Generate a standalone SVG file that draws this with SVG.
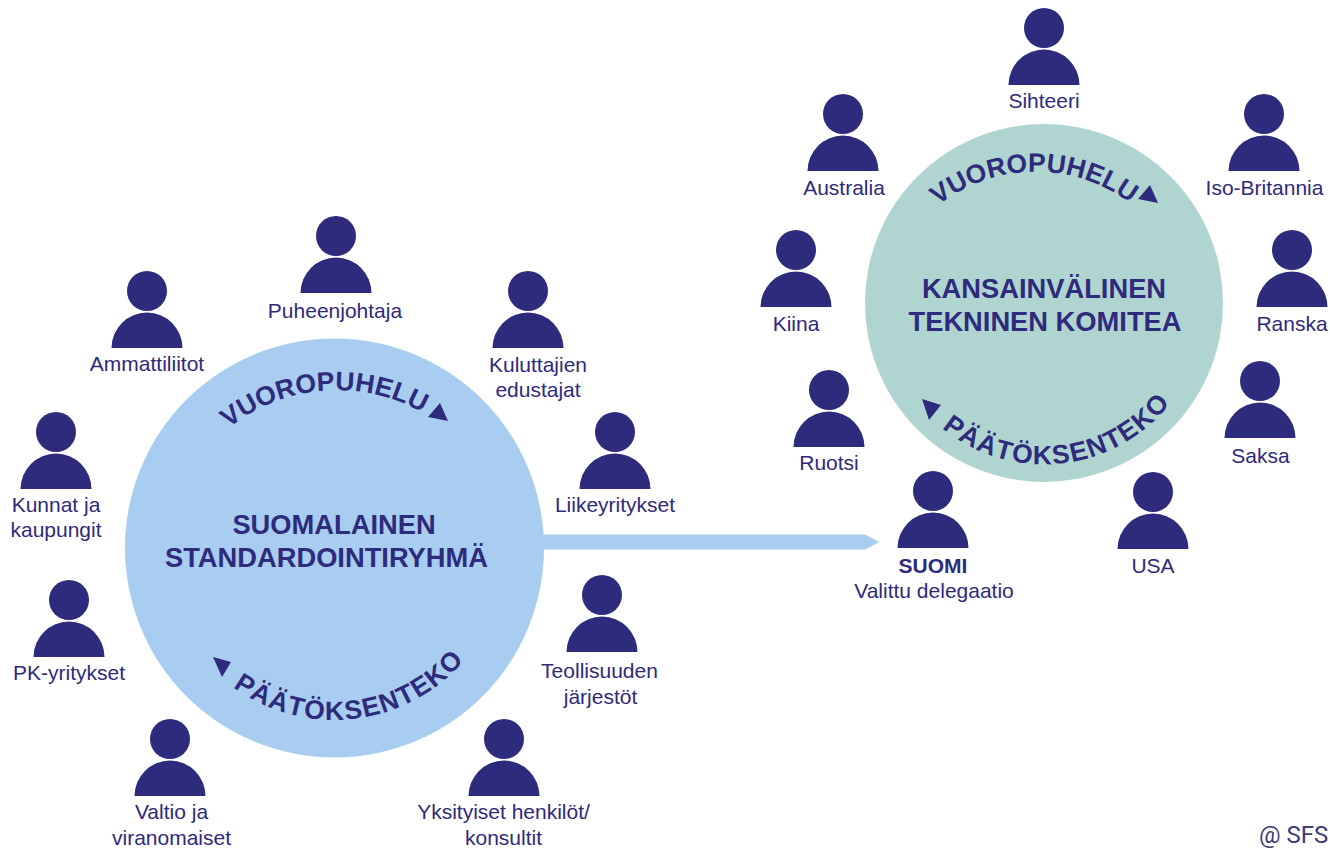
<svg xmlns="http://www.w3.org/2000/svg" width="1330" height="848" viewBox="0 0 1330 848">
<style>
text{font-family:"Liberation Sans",Arial,sans-serif;fill:#2e2a7c}
.l{font-size:21px;text-anchor:middle}
.b{font-weight:bold}
.t{font-size:27.3px;font-weight:bold;text-anchor:middle}
.c{font-size:26.5px;font-weight:bold}
.s{letter-spacing:1.25px}
.n{fill:#2e2a7c}
.m{font-family:Roboto,sans-serif;font-size:24px;fill:#3c3c78}
</style>
<defs>
<g id="person"><circle cx="0" cy="-57" r="20"/><path d="M-35.500 0A35.500 35.500 0 0 1 35.500 0Z"/></g>
<path id="a1" d="M228.700 428.100A174 174 0 0 1 467 448.500"/>
<path id="a2" d="M233 687A172 172 0 0 0 483 634"/>
<path id="a3" d="M938.400 205.400A157.600 157.600 0 0 1 1147 217.600"/>
<path id="a4" d="M942 428A161 161 0 0 0 1190 371"/>
</defs>
<rect width="1330" height="848" fill="#fff"/>
<g id="connectors"><polygon points="540,534.500 865,534.500 879.500,542 865,549.500 540,549.500" fill="#a9cdf0"/></g>
<g id="group-fi">
<circle cx="334.500" cy="548" r="209.500" fill="#a9cdf0"/>
<text class="t" x="334" y="534">SUOMALAINEN</text>
<text class="t" x="326.500" y="567">STANDARDOINTIRYHMÄ</text>
<text class="c"><textPath href="#a1">VUOROPUHELU</textPath></text>
<polygon class="n" points="448,421 428,417 440,403"/>
<text class="c s"><textPath href="#a2">PÄÄTÖKSENTEKO</textPath></text>
<polygon class="n" points="213,657 231,662 222,677"/>
</g>
<g id="group-int">
<circle cx="1044" cy="303" r="179" fill="#b0d5d0"/>
<text class="t" x="1044" y="298">KANSAINVÄLINEN</text>
<text class="t" x="1045" y="331">TEKNINEN KOMITEA</text>
<text class="c"><textPath href="#a3">VUOROPUHELU</textPath></text>
<polygon class="n" points="1158,203 1138,199 1150,185"/>
<text class="c s"><textPath href="#a4">PÄÄTÖKSENTEKO</textPath></text>
<polygon class="n" points="922,399 941,405 929,420"/>
</g>
<g id="puheenjohtaja"><use href="#person" x="336" y="293" class="n"/><text class="l" x="335" y="318">Puheenjohtaja</text></g>
<g id="ammattiliitot"><use href="#person" x="147" y="348" class="n"/><text class="l" x="147" y="371">Ammattiliitot</text></g>
<g id="kuluttajien"><use href="#person" x="528" y="348" class="n"/><text class="l" x="538" y="371.500">Kuluttajien</text><text class="l" x="538" y="396.500">edustajat</text></g>
<g id="liikeyritykset"><use href="#person" x="615" y="489" class="n"/><text class="l" x="615" y="512">Liikeyritykset</text></g>
<g id="teollisuuden"><use href="#person" x="602" y="652" class="n"/><text class="l" x="599.500" y="678">Teollisuuden</text><text class="l" x="600.500" y="704">järjestöt</text></g>
<g id="yksityiset"><use href="#person" x="504" y="796" class="n"/><text class="l" x="503.500" y="818.500">Yksityiset henkilöt/</text><text class="l" x="503.500" y="844.500">konsultit</text></g>
<g id="valtio"><use href="#person" x="170" y="796" class="n"/><text class="l" x="171.500" y="819">Valtio ja</text><text class="l" x="171.500" y="844.500">viranomaiset</text></g>
<g id="pk"><use href="#person" x="69" y="657" class="n"/><text class="l" x="69" y="679.500">PK-yritykset</text></g>
<g id="kunnat"><use href="#person" x="56" y="489" class="n"/><text class="l" x="56" y="512">Kunnat ja</text><text class="l" x="56" y="537">kaupungit</text></g>
<g id="sihteeri"><use href="#person" x="1044" y="85" class="n"/><text class="l" x="1044" y="108">Sihteeri</text></g>
<g id="australia"><use href="#person" x="843" y="171" class="n"/><text class="l" x="844" y="195">Australia</text></g>
<g id="iso-britannia"><use href="#person" x="1264" y="171" class="n"/><text class="l" x="1264.500" y="195">Iso-Britannia</text></g>
<g id="kiina"><use href="#person" x="796" y="307" class="n"/><text class="l" x="796" y="331">Kiina</text></g>
<g id="ranska"><use href="#person" x="1292" y="307" class="n"/><text class="l" x="1292" y="331">Ranska</text></g>
<g id="ruotsi"><use href="#person" x="829" y="447" class="n"/><text class="l" x="829" y="470">Ruotsi</text></g>
<g id="saksa"><use href="#person" x="1260" y="438" class="n"/><text class="l" x="1260.500" y="462.500">Saksa</text></g>
<g id="suomi"><use href="#person" x="933" y="548" class="n"/><text class="l b" x="933" y="573">SUOMI</text><text class="l" x="934" y="598">Valittu delegaatio</text></g>
<g id="usa"><use href="#person" x="1153" y="549" class="n"/><text class="l" x="1153" y="573">USA</text></g>
<text class="m" x="1259" y="843">@ SFS</text>
</svg>
